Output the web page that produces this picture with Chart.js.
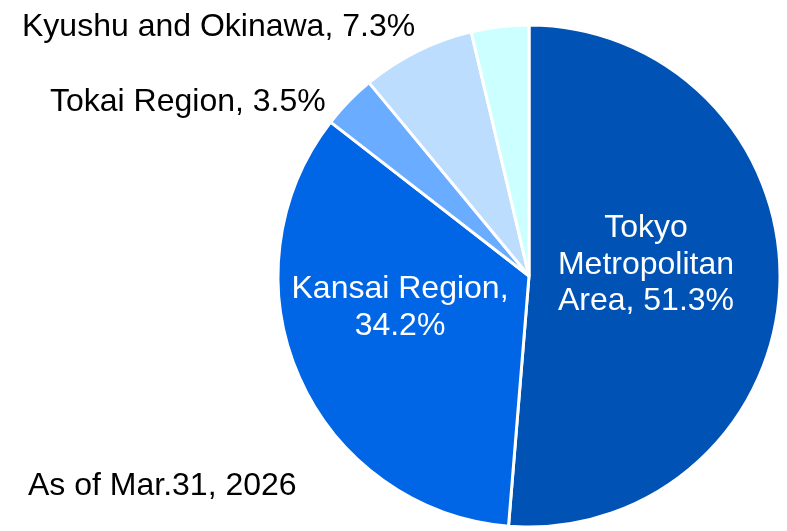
<!DOCTYPE html>
<html>
<head>
<meta charset="utf-8">
<script src="https://cdn.jsdelivr.net/npm/chart.js@4/dist/chart.umd.min.js"></script>
<style>
  html, body { margin: 0; padding: 0; background: #fff; }
  #wrap { width: 787px; height: 531px; position: relative; }
</style>
</head>
<body>
<div id="wrap"><canvas id="pie"></canvas></div>
<script>
const regions = ['Tokyo Metropolitan Area', 'Kansai Region', 'Tokai Region', 'Kyushu and Okinawa', 'Other'];
const shares = [51.3, 34.2, 3.5, 7.3, 3.7];
const colors = ['#0052B4', '#0066E6', '#6AACFF', '#BDDDFF', '#CCFFFF'];
const note = 'As of Mar.31, 2026';

// label text + where to put it (baseline of first line)
const labelLines = [
    ['Tokyo', 'Metropolitan', 'Area, 51.3%'],
    ['Kansai Region,', '34.2%'],
    ['Tokai Region, 3.5%'],
    ['Kyushu and Okinawa, 7.3%'],
    []
];
const labelPos = [
    { x: 646, y: 237, color: '#fff', align: 'center' },
    { x: 400, y: 298, color: '#fff', align: 'center' },
    { x: 50, y: 111, color: '#000', align: 'left' },
    { x: 22, y: 36, color: '#000', align: 'left' },
    null
];

const labelPlugin = {
    id: 'pieLabels',
    afterDraw(chart) {
        const ctx = chart.ctx;
        ctx.save();
        ctx.font = '32px "Liberation Sans", Arial, sans-serif';
        ctx.textBaseline = 'alphabetic';
        labelLines.forEach((lines, i) => {
            const p = labelPos[i];
            if (!p) return;
            ctx.fillStyle = p.color;
            ctx.textAlign = p.align;
            lines.forEach((t, j) => ctx.fillText(t, p.x, p.y + j * 36.5));
        });
        ctx.fillStyle = '#000';
        ctx.textAlign = 'left';
        ctx.fillText(note, 28, 495);
        ctx.restore();
    }
};

const ctx = document.getElementById('pie').getContext('2d');
new Chart(ctx, {
    type: 'pie',
    data: {
        labels: regions,
        datasets: [{
            data: shares,
            backgroundColor: colors,
            borderColor: '#ffffff',
            borderWidth: 3
        }]
    },
    options: {
        responsive: true,
        maintainAspectRatio: false,
        animation: false,
        radius: 251,
        layout: { padding: { left: 277, right: 6, top: 24, bottom: 3 } },
        plugins: {
            legend: { display: false },
            tooltip: { enabled: false }
        }
    },
    plugins: [labelPlugin]
});
</script>
</body>
</html>
